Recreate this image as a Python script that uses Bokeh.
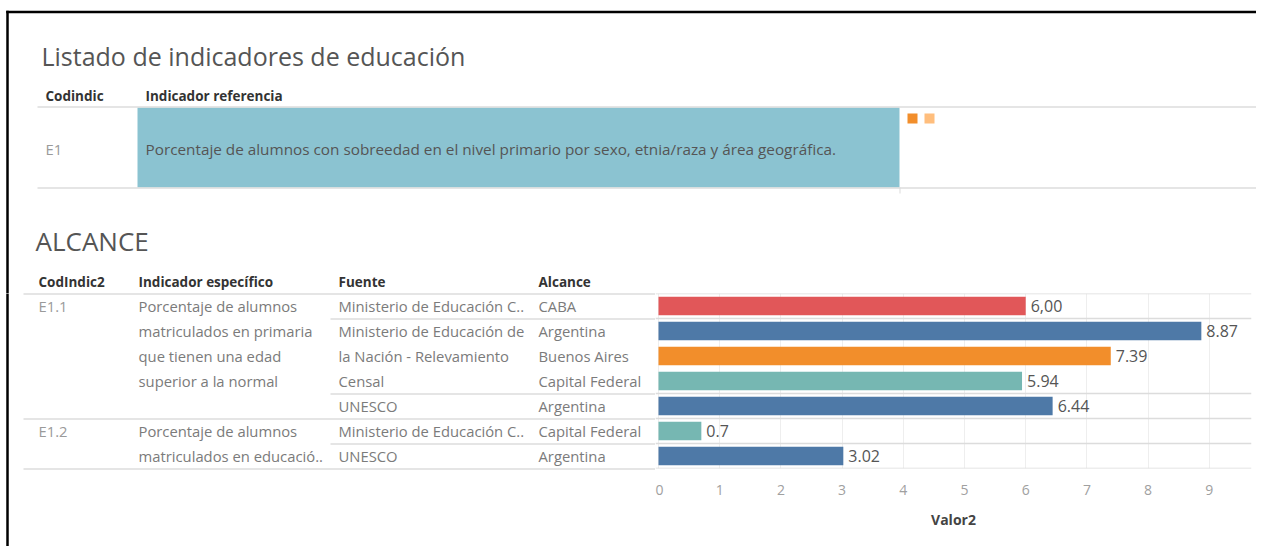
from bokeh.plotting import figure
from bokeh.layouts import column, row
from bokeh.models import Range1d, Span, LinearAxis, FixedTicker
from bokeh.embed import file_html
from bokeh.resources import INLINE
from bokeh.core.properties import value

# ---------------- data ----------------
main_title = "Listado de indicadores de educación"
top_headers = ["Codindic", "Indicador referencia"]
top_codes = ["E1"]
top_indicators = ["Porcentaje de alumnos con sobreedad en el nivel primario por sexo, etnia/raza y área geográfica."]
top_legend_colors = ["#F28E2B", "#FFBE7D"]

section_title = "ALCANCE"
headers = ["CodIndic2", "Indicador específico", "Fuente", "Alcance"]
codindic2 = ["E1.1", "E1.2"]
indicador_lines = [
    ["Porcentaje de alumnos", "matriculados en primaria", "que tienen una edad", "superior a la normal"],
    ["Porcentaje de alumnos", "matriculados en educació.."],
]
indicador_rows = [5, 2]
fuente_lines = [
    ["Ministerio de Educación C.."],
    ["Ministerio de Educación de", "la Nación - Relevamiento", "Censal"],
    ["UNESCO"],
    ["Ministerio de Educación C.."],
    ["UNESCO"],
]
fuente_rows = [1, 3, 1, 1, 1]
alcance = ["CABA", "Argentina", "Buenos Aires", "Capital Federal", "Argentina", "Capital Federal", "Argentina"]
valor2 = [6.00, 8.87, 7.39, 5.94, 6.44, 0.70, 3.02]
valor2_labels = ["6,00", "8.87", "7.39", "5.94", "6.44", "0.7", "3.02"]
x_ticks = [0, 1, 2, 3, 4, 5, 6, 7, 8, 9]
x_title = "Valor2"

# ---------------- styles ----------------
FONT = value("Open Sans")
alcance_colors = {"CABA": "#E15759", "Argentina": "#4E79A7",
                  "Buenos Aires": "#F28E2B", "Capital Federal": "#76B7B2"}
HEAD_C = "#333333"
BODY_C = "#7b7b7b"
CODE_C = "#9a9a9a"
LINE_C = "#dcdcdc"
BODY_FS = "14.8px"
HEAD_FS = "13.5px"

PAGE_W = 1256
PAGE_H = 546
TOP_H = 293          # top figure: title, top table, section header
ROW_TOP = 293        # first data row of the bottom table
ROW_H = 25
N_ROWS = len(valor2)
ROW_BOT = ROW_TOP + ROW_H * N_ROWS
BOT_H = PAGE_H - TOP_H
BOT_MB = PAGE_H - ROW_BOT
LEFT_W = 655
RIGHT_W = PAGE_W - LEFT_W
PX_PER_UNIT = 61.2
ZERO_X = 658
FRAME_R = 1251


def blank(w, h, xr, yr, **kw):
    p = figure(width=w, height=h, x_range=xr, y_range=yr, output_backend="svg",
               toolbar_location=None, **kw)
    p.axis.visible = False
    p.grid.visible = False
    p.outline_line_color = None
    return p


def txt(p, x, y, t, size=BODY_FS, color=BODY_C, style="normal", align="left"):
    r = p.text(x=[x], y=[y], text=[t], text_font=FONT, text_font_size=size,
               text_color=color, text_font_style=style, text_baseline="middle",
               text_align=align)
    r.level = "overlay"
    return r


# ---------------- top figure ----------------
top = blank(PAGE_W, TOP_H, Range1d(0, PAGE_W), Range1d(TOP_H, 0), min_border=0)
top.quad(left=[5.75, 5.75], right=[PAGE_W, 8.25], top=[10.25, 10.25], bottom=[12.75, TOP_H],
         fill_color="black", line_color=None)

txt(top, 41, 55, main_title, size="25px", color="#555555")
txt(top, 45, 95, top_headers[0], size=HEAD_FS, color=HEAD_C, style="bold")
txt(top, 145, 95, top_headers[1], size=HEAD_FS, color=HEAD_C, style="bold")
top.quad(left=[137], right=[899], top=[107], bottom=[187], fill_color="#8BC3D1", line_color=None)
top.quad(left=[37, 37], right=[PAGE_W, PAGE_W], top=[105.75, 186.75], bottom=[107.25, 188.25],
         fill_color=LINE_C, line_color=None)
top.quad(left=[899], right=[900], top=[187], bottom=[193], fill_color=LINE_C, line_color=None)
for i, c in enumerate(top_codes):
    txt(top, 45, 148, c, color=CODE_C)
    txt(top, 145, 148, top_indicators[i], size="15.3px", color="#555555")
for j, c in enumerate(top_legend_colors):
    top.quad(left=[907 + 17 * j], right=[917 + 17 * j], top=[113], bottom=[123],
             fill_color=c, line_color=None)
txt(top, 35, 240, section_title, size="26px", color="#555555")
hx = [38, 138, 338, 538]
for h, x in zip(headers, hx):
    txt(top, x, 281, h, size=HEAD_FS, color=HEAD_C, style="bold")

# ---------------- left table (bottom) ----------------
left = blank(LEFT_W, BOT_H, Range1d(0, LEFT_W), Range1d(ROW_BOT, ROW_TOP),
             min_border_left=0, min_border_right=0, min_border_top=0, min_border_bottom=BOT_MB)
b = left.quad(left=[5.75], right=[8.25], top=[ROW_TOP], bottom=[PAGE_H + 10],
              fill_color="black", line_color=None)
b.level = "overlay"


def row_y(i):
    return ROW_TOP + ROW_H * i + ROW_H / 2


r = 0
full_lines = [ROW_TOP]
for k, n in enumerate(indicador_rows):
    txt(left, 38, row_y(r), codindic2[k], color=CODE_C)
    for j, line in enumerate(indicador_lines[k]):
        txt(left, 138, row_y(r + j), line)
    r += n
    full_lines.append(ROW_TOP + ROW_H * r)
r = 0
part_lines = []
for k, n in enumerate(fuente_rows):
    for j, line in enumerate(fuente_lines[k]):
        txt(left, 338, row_y(r + j), line)
    r += n
    y = ROW_TOP + ROW_H * r
    if y not in full_lines:
        part_lines.append(y)
for i, a in enumerate(alcance):
    txt(left, 538, row_y(i), a)
s1 = left.segment(x0=[23] * len(full_lines), y0=[y + 0.5 for y in full_lines],
                  x1=[LEFT_W] * len(full_lines), y1=[y + 0.5 for y in full_lines],
                  line_color=LINE_C, line_width=1.5)
s2 = left.segment(x0=[330] * len(part_lines), y0=[y + 0.5 for y in part_lines],
                  x1=[LEFT_W] * len(part_lines), y1=[y + 0.5 for y in part_lines],
                  line_color=LINE_C, line_width=1.5)
s1.level = "overlay"
s2.level = "overlay"

# ---------------- bar chart ----------------
x_start = -(ZERO_X - LEFT_W) / PX_PER_UNIT
x_end = x_start + (FRAME_R - LEFT_W) / PX_PER_UNIT
right = figure(width=RIGHT_W, height=BOT_H, x_range=Range1d(x_start, x_end),
               y_range=Range1d(N_ROWS, 0), output_backend="svg", toolbar_location=None,
               min_border_left=0, min_border_right=PAGE_W - FRAME_R, min_border_top=0,
               min_border_bottom=BOT_MB, x_axis_location=None)
right.yaxis.visible = False
right.ygrid.visible = False
right.outline_line_color = None
right.xgrid.ticker = FixedTicker(ticks=x_ticks)
right.xgrid.grid_line_color = "#eeeeee"
ax = LinearAxis(ticker=FixedTicker(ticks=x_ticks), axis_label=x_title)
ax.axis_line_color = None
ax.major_tick_line_color = None
ax.minor_tick_line_color = None
ax.major_label_text_font = "Open Sans"
ax.major_label_text_font_size = "14px"
ax.major_label_text_color = "#a0a0a0"
ax.major_label_standoff = 10
ax.axis_label_text_font = "Open Sans"
ax.axis_label_text_font_size = "14px"
ax.axis_label_text_font_style = "bold"
ax.axis_label_text_color = "#444444"
ax.axis_label_standoff = 12
right.add_layout(ax, "below")

ys = [i + 0.5 for i in range(N_ROWS)]
cols = [alcance_colors[a] for a in alcance]
right.hbar(y=ys, left=0, right=valor2, height=0.74, fill_color=cols, line_color=None)
right.text(x=valor2, y=ys, text=valor2_labels, x_offset=5, text_font=FONT,
           text_font_size="16px", text_color="#555555", text_baseline="middle")
sep_rows = sorted(set(full_lines + part_lines))
for y in sep_rows:
    right.add_layout(Span(location=(y - ROW_TOP) / ROW_H, dimension="width",
                          line_color=LINE_C, line_width=1.5))

layout = column(top, row(left, right, spacing=0), spacing=0)
open("out.html", "w").write(file_html(layout, INLINE))
